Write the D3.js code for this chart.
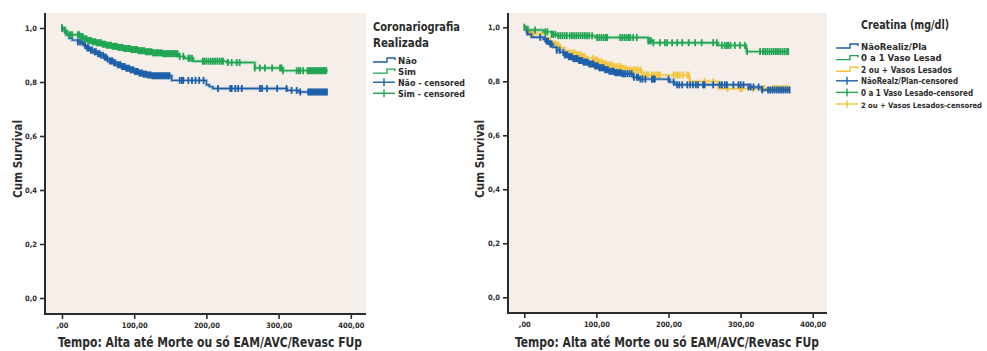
<!DOCTYPE html>
<html><head><meta charset="utf-8">
<script src="https://cdn.jsdelivr.net/npm/d3@7"></script>
<style>
html,body{margin:0;padding:0;background:#fff;}
svg text{font-family:'DejaVu Sans Condensed','Roboto',sans-serif;font-weight:bold;fill:#2b2b2b;}
</style></head>
<body>
<svg id="c" width="987" height="351"></svg>
<script>
// ---------- DATA ----------
const yTicks = [0, 0.2, 0.4, 0.6, 0.8, 1.0];
const yTickLabels = ["0,0", "0,2", "0,4", "0,6", "0,8", "1,0"];
const xTicks = [0, 100, 200, 300, 400];
const xTickLabels = [",00", "100,00", "200,00", "300,00", "400,00"];
const xTitle = "Tempo: Alta até Morte ou só EAM/AVC/Revasc FUp";
const yTitle = "Cum Survival";

// Left panel: Coronariografia Realizada
const leftLegendTitle = ["Coronariografia", "Realizada"];
const leftLegendLabels = ["Não", "Sim", "Não - censored", "Sim - censored"];
const leftNaoSteps = [[0,1],[3,0.99],[6,0.975],[10,0.962],[14,0.955],[22,0.948],[30,0.935],[34,0.926],[38,0.918],[43,0.912],[48,0.905],[53,0.899],[58,0.892],[62,0.885],[66,0.878],[71,0.871],[76,0.864],[82,0.857],[88,0.851],[94,0.845],[100,0.839],[106,0.833],[112,0.829],[118,0.826],[125,0.823],[152,0.806],[200,0.79],[204,0.783],[209,0.776],[312,0.769],[328,0.763]];
const leftNaoEnd = 367;
const leftNaoCensor = [0,22,25,28,32,35,37,40,42,45,47,50,52,54,57,59,61,63,66,68,70,72,74,77,79,81,83,85,87,89,91,93,95,97,99,101,103,105,107,109,111,113,115,117,119,121,123,125,127,129,131,133,135,137,139,141,143,145,147,149,163,166,168,175,180,185,190,196,216,233,235,240,244,249,274,277,284,298,311,318,325,330,341,343,345,347,349,351,353,355,357,359,361,363,365,367];
const leftSimSteps = [[0,1],[4,0.99],[7,0.975],[26,0.968],[30,0.96],[36,0.954],[42,0.949],[48,0.945],[55,0.94],[62,0.936],[70,0.932],[78,0.928],[86,0.924],[95,0.92],[105,0.916],[115,0.912],[125,0.908],[140,0.905],[161,0.895],[170,0.888],[182,0.877],[228,0.872],[267,0.852],[306,0.842]];
const leftSimEnd = 368;
const leftSimCensor = [0,4,10,12,14,22,24,26,28,29,32,34,36,38,40,42,44,46,48,50,52,54,56,58,60,62,64,66,68,70,72,74,76,78,80,82,84,86,88,90,92,94,96,98,100,102,104,106,108,110,112,114,116,118,120,122,124,126,128,130,132,134,136,138,140,142,144,146,148,150,152,154,156,158,160,163,168,175,177,180,195,197,200,203,206,209,212,215,218,221,223,230,235,242,246,267,274,281,291,302,304,306,325,328,330,334,340,342,344,346,348,350,352,354,356,358,360,362,364,366];

// Right panel: Creatina (mg/dl)
const rightLegendTitle = ["Creatina (mg/dl)"];
const rightLegendLabels = ["NãoRealiz/Pla", "0 a 1 Vaso Lesad", "2 ou + Vasos Lesados", "NãoRealz/Plan-censored", "0 a 1 Vaso Lesado-censored", "2 ou + Vasos Lesados-censored"];
const rightNaoSteps = [[0,1],[3,0.983],[5,0.974],[10,0.963],[26,0.956],[31,0.948],[35,0.938],[40,0.926],[45,0.915],[50,0.907],[56,0.898],[62,0.891],[68,0.884],[75,0.877],[82,0.871],[90,0.864],[97,0.857],[104,0.85],[111,0.843],[118,0.837],[126,0.832],[135,0.828],[151,0.815],[160,0.808],[202,0.797],[209,0.787],[311,0.779],[329,0.768]];
const rightNaoEnd = 368;
const rightNaoCensor = [4,22,29,31,33,36,38,45,49,54,56,58,60,62,64,66,68,70,72,74,76,78,80,82,84,86,88,90,92,94,96,98,100,102,104,106,108,110,112,114,116,118,120,122,124,126,128,130,132,134,136,138,140,143,146,149,152,156,158,161,164,168,177,179,181,200,207,212,215,219,226,230,234,238,241,248,250,262,271,274,278,281,290,297,300,304,311,314,318,325,330,338,341,344,347,350,353,356,359,362,365,368];
const rightUmSteps = [[0,1],[5,0.99],[26,0.983],[38,0.974],[45,0.969],[98,0.962],[172,0.95],[179,0.943],[269,0.933],[308,0.91]];
const rightUmEnd = 366;
const rightUmCensor = [0,15,29,32,38,40,43,47,50,53,56,59,63,66,69,72,75,78,81,84,87,90,94,101,104,107,110,113,115,133,136,139,142,145,147,151,156,172,174,176,179,188,195,198,205,212,219,228,237,246,262,267,274,278,281,283,286,292,299,306,309,327,331,334,337,340,343,346,349,352,355,358,361,364,366];
const rightDoisSteps = [[0,1],[3,0.99],[8,0.977],[29,0.96],[36,0.947],[43,0.935],[50,0.924],[56,0.913],[64,0.905],[72,0.898],[80,0.891],[88,0.885],[96,0.879],[103,0.873],[110,0.866],[116,0.86],[125,0.854],[135,0.848],[143,0.842],[163,0.823],[229,0.799],[269,0.773]];
const rightDoisEnd = 368;
const rightDoisCensor = [0,8,10,13,36,43,45,47,67,70,73,76,79,82,84,95,98,101,104,107,110,113,116,119,122,125,128,131,134,137,140,143,146,149,152,155,158,161,164,167,170,172,177,180,183,186,188,207,210,213,216,220,226,228,230,250,262,282,299,302,317,331,333,345,348,351,354,357,360,363,366];

// ---------- STYLE ----------
const BLUE = "#1c5fa8", GREEN = "#1fa552", YELLOW = "#f3c43c";
const BG = "#f6eee9", AXIS = "#2b2b2b";

const svg = d3.select("#c");

function stepPath(steps, end) {
  const pts = [];
  steps.forEach((d, i) => {
    if (i > 0) pts.push([d[0], steps[i-1][1]]);
    pts.push(d);
  });
  pts.push([end, steps[steps.length-1][1]]);
  return pts;
}
function survAt(steps, t) {
  let s = steps[0][1];
  for (const d of steps) { if (d[0] <= t) s = d[1]; else break; }
  return s;
}

function panel(cfg) {
  const x = d3.scaleLinear().domain([0, 400]).range(cfg.xr);
  const y = d3.scaleLinear().domain([0, 1]).range(cfg.yr);
  const g = svg.append("g");
  g.append("rect").attr("x", cfg.bx0).attr("y", cfg.by0)
    .attr("width", cfg.bx1 - cfg.bx0).attr("height", cfg.by1 - cfg.by0).attr("fill", BG);

  const line = d3.line().x(d => x(d[0])).y(d => y(d[1]));
  cfg.series.forEach(s => {
    const pts = stepPath(s.steps, s.end);
    g.append("path").attr("d", line(pts)).attr("fill", "none")
      .attr("stroke", s.color).attr("stroke-width", 3.4).attr("stroke-opacity", 0.3);
    g.append("path").attr("d", line(pts)).attr("fill", "none")
      .attr("stroke", s.color).attr("stroke-width", 1.4);
    g.append("g").selectAll("line").data(s.censor).join("line")
      .attr("x1", d => x(d)).attr("x2", d => x(d))
      .attr("y1", d => y(survAt(s.steps, d)) - 3.5)
      .attr("y2", d => y(survAt(s.steps, d)) + 3.5)
      .attr("stroke", s.color).attr("stroke-width", 1.8);
  });

  // axes
  const ya = d3.axisLeft(y).tickValues(yTicks).tickFormat((d, i) => yTickLabels[i]).tickSize(5).tickPadding(3);
  const yg = g.append("g").attr("transform", `translate(${cfg.bx0},0)`).call(ya);
  const xa = d3.axisBottom(x).tickValues(xTicks).tickFormat((d, i) => xTickLabels[i]).tickSize(5).tickPadding(4);
  const xg = g.append("g").attr("transform", `translate(0,${cfg.by1})`).call(xa);
  [yg, xg].forEach(a => {
    a.select(".domain").remove();
    a.selectAll(".tick line").attr("stroke", AXIS).attr("stroke-width", 1.6);
    a.selectAll(".tick text").attr("font-size", 7.5).attr("fill", AXIS)
      .style("font-family", "'DejaVu Sans Condensed',sans-serif").style("font-weight", "bold");
  });
  g.append("line").attr("x1", cfg.bx0).attr("x2", cfg.bx0).attr("y1", cfg.by0).attr("y2", cfg.by1 + 1)
    .attr("stroke", AXIS).attr("stroke-width", 2);
  g.append("line").attr("x1", cfg.bx0 - 1).attr("x2", cfg.bx1).attr("y1", cfg.by1).attr("y2", cfg.by1)
    .attr("stroke", AXIS).attr("stroke-width", 2);

  g.append("text").attr("x", cfg.xtx).attr("y", 347).attr("text-anchor", "middle")
    .attr("font-size", 14).attr("textLength", 304).attr("lengthAdjust", "spacingAndGlyphs").text(xTitle);
  g.append("text").attr("transform", `translate(${cfg.ytx},159) rotate(-90)`).attr("text-anchor", "middle")
    .attr("font-size", 13).attr("textLength", 78).attr("lengthAdjust", "spacingAndGlyphs").text(yTitle);

  // legend
  const lg = g.append("g");
  cfg.legTitle.forEach((t, i) => {
    lg.append("text").attr("x", cfg.legTx).attr("y", cfg.legTy + i * 15.5).attr("font-size", 12.5)
      .attr("textLength", cfg.legTw[i]).attr("lengthAdjust", "spacingAndGlyphs").text(t);
  });
  cfg.legItems.forEach((it, i) => {
    const yy = cfg.legY0 + i * cfg.legDy;
    const x0 = cfg.legSx0, x1 = cfg.legSx1;
    if (!it.censored) {
      lg.append("path").attr("d", `M${x0},${yy + 2}H${x1 - 8}V${yy - 2}H${x1}V${yy}`)
        .attr("fill", "none").attr("stroke", it.color).attr("stroke-width", 1.4);
    } else {
      lg.append("line").attr("x1", x0).attr("x2", x1).attr("y1", yy).attr("y2", yy)
        .attr("stroke", it.color).attr("stroke-width", 1.4);
      const xm = (x0 + x1) / 2;
      lg.append("line").attr("x1", xm).attr("x2", xm).attr("y1", yy - 4).attr("y2", yy + 4)
        .attr("stroke", it.color).attr("stroke-width", 1.4);
    }
    const tx = lg.append("text").attr("x", x1 + 3).attr("y", yy + 3.5).attr("font-size", it.fs || 9.5).text(it.label);
    if (it.w) tx.attr("textLength", it.w).attr("lengthAdjust", "spacingAndGlyphs");
  });
}

panel({
  xr: [62, 350.8], yr: [298, 28],
  bx0: 45, bx1: 366, by0: 13, by1: 314,
  xtx: 210, ytx: 22,
  series: [
    {steps: leftNaoSteps, end: leftNaoEnd, censor: leftNaoCensor, color: BLUE},
    {steps: leftSimSteps, end: leftSimEnd, censor: leftSimCensor, color: GREEN}
  ],
  legTitle: leftLegendTitle, legTx: 373, legTy: 31, legTw: [87, 56],
  legY0: 60, legDy: 11.1, legSx0: 373, legSx1: 395,
  legItems: [
    {label: leftLegendLabels[0], color: BLUE, censored: false},
    {label: leftLegendLabels[1], color: GREEN, censored: false},
    {label: leftLegendLabels[2], color: BLUE, censored: true, w: 67},
    {label: leftLegendLabels[3], color: GREEN, censored: true, w: 67}
  ]
});

panel({
  xr: [524.3, 812.7], yr: [297.3, 27.3],
  bx0: 508, bx1: 827, by0: 13, by1: 313,
  xtx: 667, ytx: 484,
  series: [
    {steps: rightDoisSteps, end: rightDoisEnd, censor: rightDoisCensor, color: YELLOW},
    {steps: rightNaoSteps, end: rightNaoEnd, censor: rightNaoCensor, color: BLUE},
    {steps: rightUmSteps, end: rightUmEnd, censor: rightUmCensor, color: GREEN}
  ],
  legTitle: rightLegendTitle, legTx: 861, legTy: 29, legTw: [88],
  legY0: 46, legDy: 11.6, legSx0: 836, legSx1: 858,
  legItems: [
    {label: rightLegendLabels[0], color: BLUE, censored: false},
    {label: rightLegendLabels[1], color: GREEN, censored: false},
    {label: rightLegendLabels[2], color: YELLOW, censored: false, w: 91},
    {label: rightLegendLabels[3], color: BLUE, censored: true, w: 97, fs: 9},
    {label: rightLegendLabels[4], color: GREEN, censored: true, w: 112, fs: 8.5},
    {label: rightLegendLabels[5], color: YELLOW, censored: true, w: 121, fs: 7.5}
  ]
});
</script>
</body></html>
